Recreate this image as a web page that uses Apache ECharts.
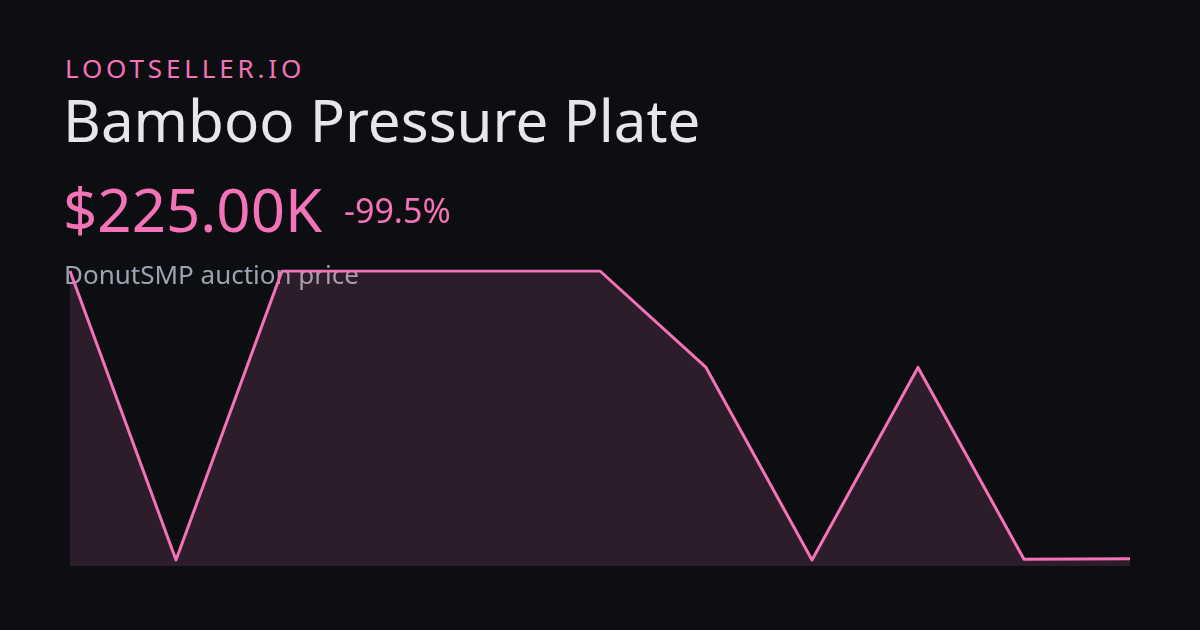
<!DOCTYPE html>
<html>
<head>
<meta charset="utf-8">
<script src="https://cdn.jsdelivr.net/npm/echarts@6/dist/echarts.min.js"></script>
<style>
  html, body { margin: 0; padding: 0; background: #0d0e12; }
  #wrap { position: relative; width: 1200px; height: 630px; }
  #brand { position: absolute; left: 65px; top: 51px; font-family: "Noto Sans", sans-serif; font-size: 26px; letter-spacing: 3.85px; color: #f472b6; line-height: 34px; }
  #chart { position: absolute; left: 0; top: 0; width: 1200px; height: 630px; }
</style>
</head>
<body>
<div id="wrap">
  <div id="brand">LOOTSELLER.IO</div>
  <div id="chart"></div>
</div>
<script>
const brand = "LOOTSELLER.IO";
const title = "Bamboo Pressure Plate";
const priceLabel = "$225.00K";
const changeLabel = "-99.5%";
const subtitle = "DonutSMP auction price";
const categories = ["1", "2", "3", "4", "5", "6", "7", "8", "9", "10", "11"];
const prices = [45000000, 40000, 45000000, 45000000, 45000000, 45000000, 30000000, 40000, 30000000, 150000, 225000];

const chart = echarts.init(document.getElementById('chart'), null, { renderer: 'canvas' });
const font = '"Noto Sans", "Open Sans", sans-serif';
chart.setOption({
  backgroundColor: 'transparent',
  animation: false,
  grid: { left: 70, right: 70, top: 271, bottom: 64 },
  xAxis: { type: 'category', data: categories, boundaryGap: false, show: false },
  yAxis: { type: 'value', min: -900000, max: 45000000, show: false },
  graphic: [
    { type: 'text', left: 63, top: 96, z: 0, silent: true,
      style: { text: title, fill: '#e5e7eb', font: '400 58.3px ' + font } },
    { type: 'text', left: 63, top: 185, z: 0, silent: true,
      style: { text: priceLabel, fill: '#f472b6', font: '400 60px ' + font } },
    { type: 'text', left: 344, top: 196, z: 0, silent: true,
      style: { text: changeLabel, fill: '#f472b6', font: '400 34px ' + font } },
    { type: 'text', left: 64, top: 264, z: 0, silent: true,
      style: { text: subtitle, fill: '#9ca3af', font: '400 26px ' + font } }
  ],
  series: [{
    type: 'line',
    data: prices,
    symbol: 'none',
    z: 5,
    lineStyle: { color: '#f472b6', width: 3, join: 'round' },
    areaStyle: { color: 'rgba(244,114,182,0.2)', origin: 'start' }
  }]
});
</script>
</body>
</html>
